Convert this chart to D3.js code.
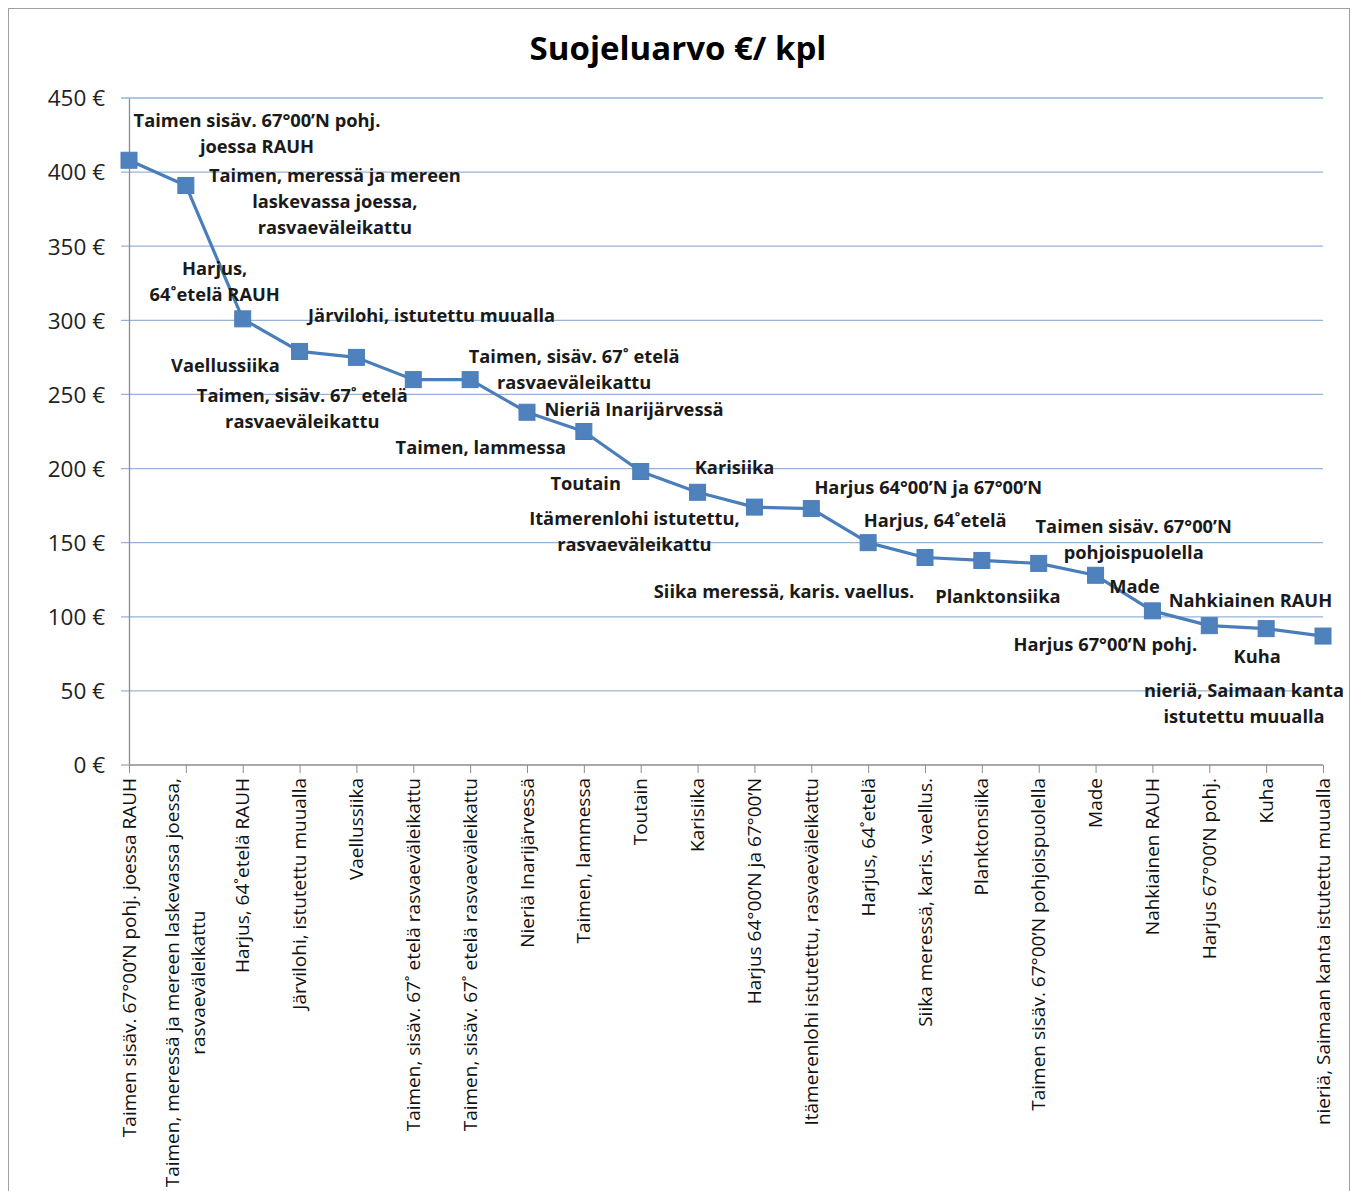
<!DOCTYPE html>
<html><head><meta charset="utf-8">
<script src="https://cdn.jsdelivr.net/npm/d3@7"></script>
<style>body{margin:0;background:#fff}</style>
</head><body>
<script>
const categories = [
  ["Taimen sisäv. 67°00’N pohj. joessa RAUH"],
  ["Taimen, meressä  ja mereen laskevassa joessa,", "rasvaeväleikattu"],
  ["Harjus, 64˚etelä RAUH"],
  ["Järvilohi, istutettu muualla"],
  ["Vaellussiika"],
  ["Taimen, sisäv. 67˚ etelä rasvaeväleikattu"],
  ["Taimen, sisäv. 67˚ etelä rasvaeväleikattu"],
  ["Nieriä Inarijärvessä"],
  ["Taimen, lammessa"],
  ["Toutain"],
  ["Karisiika"],
  ["Harjus 64°00’N ja 67°00’N"],
  ["Itämerenlohi istutettu, rasvaeväleikattu"],
  ["Harjus, 64˚etelä"],
  ["Siika meressä, karis. vaellus."],
  ["Planktonsiika"],
  ["Taimen sisäv. 67°00’N pohjoispuolella"],
  ["Made"],
  ["Nahkiainen RAUH"],
  ["Harjus 67°00’N pohj."],
  ["Kuha"],
  ["nieriä, Saimaan kanta istutettu muualla"]
];
const values = [408, 391, 301, 279, 275, 260, 260, 238, 225, 198, 184, 174, 173, 150, 140, 138, 136, 128, 104, 94, 92, 87];
const dataLabels = [
  ["Taimen sisäv. 67°00’N pohj.", "joessa RAUH"],
  ["Taimen, meressä  ja mereen", "laskevassa joessa,", "rasvaeväleikattu"],
  ["Harjus,", "64˚etelä RAUH"],
  ["Järvilohi, istutettu muualla"],
  ["Vaellussiika"],
  ["Taimen, sisäv. 67˚ etelä", "rasvaeväleikattu"],
  ["Taimen, sisäv. 67˚ etelä", "rasvaeväleikattu"],
  ["Nieriä Inarijärvessä"],
  ["Taimen, lammessa"],
  ["Toutain"],
  ["Karisiika"],
  ["Itämerenlohi istutettu,", "rasvaeväleikattu"],
  ["Harjus 64°00’N ja 67°00’N"],
  ["Harjus, 64˚etelä"],
  ["Siika meressä, karis. vaellus."],
  ["Planktonsiika"],
  ["Taimen sisäv. 67°00’N", "pohjoispuolella"],
  ["Made"],
  ["Nahkiainen RAUH"],
  ["Harjus 67°00’N pohj."],
  ["Kuha"],
  ["nieriä, Saimaan kanta", "istutettu muualla"]
];
// label offsets relative to point: [dx of center, dy of first line center]
const labelOffsets = [
  [128,-40],[149,-10],[-28,-50],[132,-36],[-131,8],[-111,16],[104,-23],[107,-3],
  [-103,16],[-55,12],[37,-25],[-120,11],[117,-21],[67,-22],[-141,34],[16,36],
  [95,-37],[39,11],[98,-10],[-104,19],[-9,28],[-79,54]
];
const yTicks = [0, 50, 100, 150, 200, 250, 300, 350, 400, 450];
const title = "Suojeluarvo €/ kpl";

const FONT = "'Open Sans', sans-serif";
const W = 1357, H = 1191;
const svg = d3.select("body").append("svg").attr("width", W).attr("height", H);
svg.append("rect").attr("x", 8.5).attr("y", 8.5).attr("width", 1341).attr("height", 1195)
  .attr("fill", "#fff").attr("stroke", "#a0a0a0").attr("stroke-width", 1);

const idx = d3.range(categories.length);
const x = d3.scalePoint().domain(idx).range([129, 1323]).padding(0);
const y = d3.scaleLinear().domain([0, 450]).range([765, 98]);

svg.append("text").attr("x", 678).attr("y", 60).attr("text-anchor", "middle")
  .attr("font-family", FONT).attr("font-weight", "bold").attr("font-size", 33)
  .attr("fill", "#000").text(title);

// gridlines
const grid = svg.append("g");
grid.selectAll("line").data(yTicks.filter(d => d > 0)).join("line")
  .attr("x1", 121).attr("x2", 1323).attr("y1", d => y(d)).attr("y2", d => y(d))
  .attr("stroke", "#95b3d7").attr("stroke-width", 1.3);

// y axis
const yAxis = d3.axisLeft(y).tickValues(yTicks).tickSize(0).tickPadding(0).tickFormat(d => d + " €");
const gy = svg.append("g").attr("transform", "translate(129,0)").call(yAxis);
gy.select(".domain").attr("stroke", "#8c8c8c").attr("stroke-width", 1.3);
gy.selectAll("text").attr("x", -24).attr("dy", "0.35em")
  .attr("font-family", FONT).attr("font-size", 22.5).attr("fill", "#222");
svg.append("line").attr("x1", 121).attr("x2", 129).attr("y1", y(0)).attr("y2", y(0)).attr("stroke", "#8c8c8c");

// x axis
const xAxis = d3.axisBottom(x).tickSize(8).tickFormat("");
const gx = svg.append("g").attr("transform", `translate(0,${y(0)})`).call(xAxis);
gx.select(".domain").attr("stroke", "#8c8c8c").attr("stroke-width", 1.3).attr("d", `M129,0H1323`);
gx.selectAll(".tick line").attr("stroke", "#8c8c8c");

// category labels rotated
const catG = svg.append("g");
idx.forEach(i => {
  const lines = categories[i];
  const t = catG.append("text")
    .attr("transform", `translate(${x(i)},778) rotate(-90)`)
    .attr("font-family", FONT).attr("font-size", 19).attr("fill", "#111");
  if (lines.length === 1) {
    t.attr("text-anchor", "end").attr("y", 6.5).text(lines[0]);
  } else {
    const n = lines.length;
    const lh = 26;
    const first = t.append("tspan").attr("text-anchor", "end").attr("x", 0).attr("y", 6.5 - (n - 1) * lh / 2).text(lines[0]);
    const len = first.node().getComputedTextLength();
    for (let k = 1; k < n; k++) {
      t.append("tspan").attr("text-anchor", "middle").attr("x", -len / 2).attr("y", 6.5 - (n - 1) * lh / 2 + k * lh).text(lines[k]);
    }
  }
});

// line
const line = d3.line().x((d, i) => x(i)).y(d => y(d));
svg.append("path").datum(values).attr("d", line)
  .attr("fill", "none").attr("stroke", "#4a7ebb").attr("stroke-width", 3.2).attr("stroke-linejoin", "round");

// markers
svg.append("g").selectAll("rect").data(values).join("rect")
  .attr("x", (d, i) => x(i) - 8).attr("y", d => y(d) - 8).attr("width", 16).attr("height", 16)
  .attr("fill", "#4f81bd").attr("stroke", "#4a7ebb").attr("stroke-width", 1);

// data labels
const lblG = svg.append("g");
values.forEach((v, i) => {
  const [dx, dy] = labelOffsets[i];
  const t = lblG.append("text").attr("text-anchor", "middle")
    .attr("font-family", FONT).attr("font-weight", "bold").attr("font-size", 18.3)
    .attr("fill", "#1a1a1a");
  dataLabels[i].forEach((s, k) => {
    t.append("tspan").attr("x", x(i) + dx).attr("y", y(v) + dy + 6.5 + k * 26).text(s);
  });
});
</script>
</body></html>
